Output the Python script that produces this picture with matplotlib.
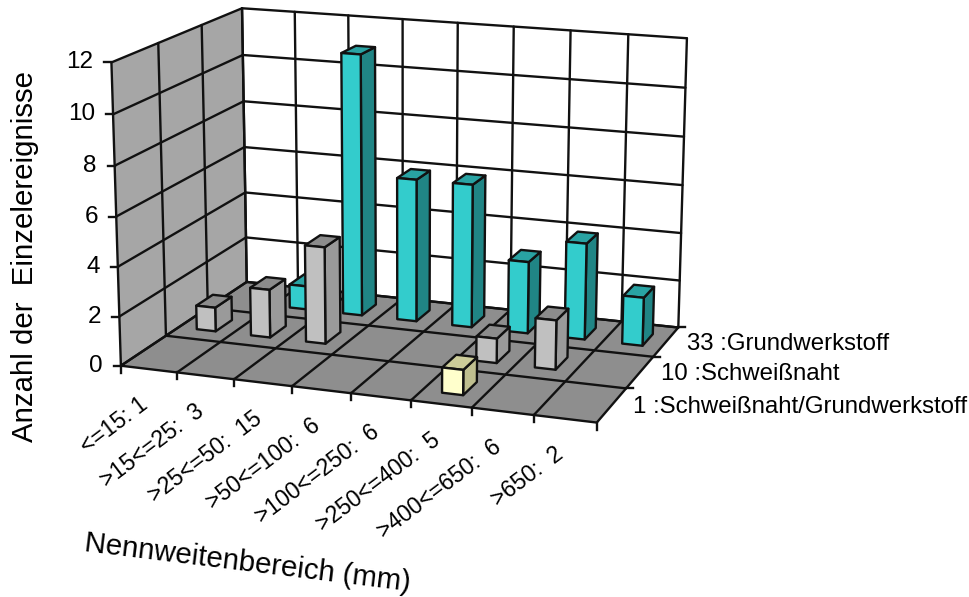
import numpy as np
import matplotlib
matplotlib.use("Agg")
import matplotlib.pyplot as plt
from matplotlib.patches import Polygon

plt.rcParams['font.family'] = ['Liberation Sans', 'DejaVu Sans']

# ---- data ----
categories = ['<=15: 1', '>15<=25:  3', '>25<=50:  15', '>50<=100:  6',
              '>100<=250:  6', '>250<=400:  5', '>400<=650:  6', '>650:  2']
series_labels = ['1 :Schweißnaht/Grundwerkstoff', '10 :Schweißnaht', '33 :Grundwerkstoff']
series_front = [0, 0, 0, 0, 0, 1, 0, 0]
series_middle = [1, 2, 4, 0, 0, 1, 2, 0]
series_back = [0, 1, 11, 6, 6, 3, 4, 2]
y_ticks = [0, 2, 4, 6, 8, 10, 12]
y_title = 'Anzahl der  Einzelereignisse'
x_title = 'Nennweitenbereich (mm)'

# ---- projection: frame corners (x cat, y series, z value) -> pixel ----
corners = [((0, 0, 0), (120.7, 365.7)), ((0, 0, 12), (111.7, 62.3)),
           ((0, 3, 0), (247.0, 282.0)), ((0, 3, 12), (241.7, 8.3)),
           ((8, 3, 0), (678.3, 327.3)), ((8, 3, 12), (687.0, 38.3)),
           ((8, 0, 0), (596.7, 422.7))]
A = []
for (X, Y, Z), (u, v) in corners:
    A.append([X, Y, Z, 1, 0, 0, 0, 0, -u*X, -u*Y, -u*Z, -u])
    A.append([0, 0, 0, 0, X, Y, Z, 1, -v*X, -v*Y, -v*Z, -v])
P = np.linalg.svd(np.array(A, float))[2][-1].reshape(3, 4)


def pr(x, y, z):
    h = P @ np.array([x, y, z, 1.0])
    return h[0]/h[2], h[1]/h[2]


fig = plt.figure(figsize=(9.7, 5.97), dpi=100)
ax = fig.add_axes([0, 0, 1, 1])
ax.set_xlim(0, 970)
ax.set_ylim(597, 0)
ax.axis('off')

LW = 1.7
EDGE = '#111111'


def quad(pts, color, z):
    ax.add_patch(Polygon([pr(*p) for p in pts], closed=True, facecolor=color,
                         edgecolor=EDGE, linewidth=LW, joinstyle='round', zorder=z))


def seg(a, b, z=2, lw=LW):
    pa, pb = pr(*a), pr(*b)
    ax.plot([pa[0], pb[0]], [pa[1], pb[1]], color=EDGE, lw=lw, zorder=z, solid_capstyle='round')


nc, ns, zmax = len(categories), 3, y_ticks[-1]
# walls and floor
ax.add_patch(Polygon([pr(0, 0, 0), pr(0, 0, zmax), pr(0, ns, zmax), pr(0, ns, 0)],
                     facecolor='#A6A6A6', edgecolor='none', zorder=1))
ax.add_patch(Polygon([pr(0, ns, 0), pr(0, ns, zmax), pr(nc, ns, zmax), pr(nc, ns, 0)],
                     facecolor='white', edgecolor='none', zorder=1))
ax.add_patch(Polygon([pr(0, 0, 0), pr(nc, 0, 0), pr(nc, ns, 0), pr(0, ns, 0)],
                     facecolor='#8E8E8E', edgecolor='none', zorder=1))
for t in y_ticks:
    seg((0, 0, t), (0, ns, t))
    seg((0, ns, t), (nc, ns, t))
for i in range(nc + 1):
    seg((i, ns, 0), (i, ns, zmax))
    seg((i, 0, 0), (i, ns, 0))
for j in range(ns + 1):
    seg((0, j, 0), (0, j, zmax))
    seg((0, j, 0), (nc, j, 0))

# ticks
for t in y_ticks:
    u, v = pr(0, 0, t)
    ax.plot([u - 7, u], [v, v], color=EDGE, lw=LW, zorder=2)
    ax.text(u - 18, v, str(t), ha='right', va='center', fontsize=17.5, color='black')
for i in range(nc + 1):
    u, v = pr(i, 0, 0)
    ax.plot([u, u], [v, v + 7], color=EDGE, lw=LW, zorder=2)
for j in range(1, ns + 1):
    u, v = pr(nc, j, 0)
    ax.plot([u, u + 7], [v, v], color=EDGE, lw=LW, zorder=2)

for i, lab in enumerate(categories):
    u, v = pr(i + 0.5, 0, 0)
    ax.text(u - 11, v + 24, lab, rotation=37, rotation_mode='anchor', ha='right', va='top',
            fontsize=16.5, color='black')
for j, lab in enumerate(series_labels):
    u, v = pr(nc, j + 0.5, 0)
    ax.text(u + 21, v + 2, lab, ha='left', va='center', fontsize=17.3, color='black')

ax.text(25, 257, y_title, rotation=90, ha='center', va='center', fontsize=21.2, color='black')
ax.text(248, 563, x_title, rotation=-7, rotation_mode='anchor', ha='center', va='center',
        fontsize=21.2, color='black')

# bars, drawn back to front
styles = [('#FFFFCC', '#CCCC99', '#BFBF8F'),
          ('#C0C0C0', '#8C8C8C', '#9A9A9A'),
          ('#33CCCC', '#29A3A3', '#208585')]
series = [series_front, series_middle, series_back]
HW, HD = 0.175, 0.2
z0 = 3
for j in [2, 1, 0]:
    for i in range(nc):
        h = series[j][i]
        if h == 0:
            continue
        front, top, side = styles[j]
        x0, x1 = i + 0.51 - HW, i + 0.51 + HW
        y0, y1 = j + 0.5 - HD, j + 0.5 + HD
        quad([(x1, y0, 0), (x1, y1, 0), (x1, y1, h), (x1, y0, h)], side, z0)
        quad([(x0, y0, h), (x1, y0, h), (x1, y1, h), (x0, y1, h)], top, z0)
        quad([(x0, y0, 0), (x1, y0, 0), (x1, y0, h), (x0, y0, h)], front, z0)
        z0 += 1

fig.savefig('out.png', dpi=100)
